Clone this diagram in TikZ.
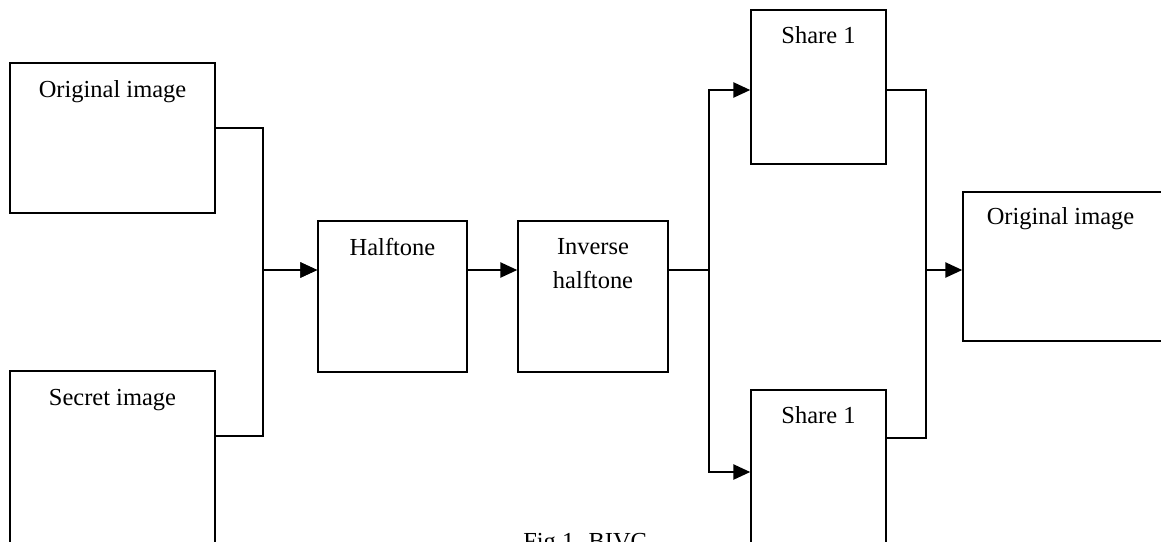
\documentclass[tikz,border=0pt]{standalone}
\usepackage{fontspec}
\setmainfont{Liberation Serif}
\usetikzlibrary{arrows.meta, positioning}
\tikzset{
    blockNode/.style = {rectangle, draw=black, line width=1.1pt, inner sep=0pt},
    titleNode/.style = {inner sep=0pt, align=center, font=\fontsize{17.4}{24.2}\selectfont},
    linePath/.style = {draw=black, line width=1.1pt},
    arrowPath/.style = {linePath, -{Triangle[length=0.42cm, width=0.38cm]}}
}
\begin{document}
\begin{tikzpicture}[x=0.025cm, y=-0.025cm]
    \useasboundingbox (0,0) rectangle (1161,541);
    % blocks
    \node(orig)[blockNode, minimum width=5.125cm, minimum height=3.75cm] at (112.5,138){};
    \node(secret)[blockNode, minimum width=5.125cm, minimum height=4.725cm] at (112.5,465.5){};
    \node(halftone)[blockNode, minimum width=3.725cm, minimum height=3.775cm] at (392.5,296.5){};
    \node(inverse)[blockNode, minimum width=3.75cm, minimum height=3.775cm] at (593,296.5){};
    \node(shareA)[blockNode, minimum width=3.375cm, minimum height=3.85cm] at (818.5,87){};
    \node(shareB)[blockNode, minimum width=3.375cm, minimum height=4.25cm] at (818.5,475){};
    \node(result)[blockNode, minimum width=5.675cm, minimum height=3.725cm] at (1076.5,266.5){};
    % titles
    \node(origTitle)[titleNode, below=0.45cm of orig.north]{Original image};
    \node(secretTitle)[titleNode, below=0.475cm of secret.north]{Secret image};
    \node(halftoneTitle)[titleNode, below=0.45cm of halftone.north]{Halftone};
    \node(inverseTitle)[titleNode, below=0.45cm of inverse.north]{Inverse\\halftone};
    \node(shareATitle)[titleNode, below=0.425cm of shareA.north]{Share 1};
    \node(shareBTitle)[titleNode, below=0.425cm of shareB.north]{Share 1};
    \node(resultTitle)[titleNode, below=0.4cm of result.north, xshift=-0.4cm]{Original image};
    \node(caption)[titleNode, anchor=north west] at (523,533){Fig.1. BIVC};
    % junctions
    \coordinate(joinA) at (263,270);
    \coordinate(splitB) at (709,270);
    \coordinate(joinC) at (926,270);
    % connectors
    \path[arrowPath] (orig.east |- 0,128) -| (joinA) -- (halftone.west |- joinA);
    \path[arrowPath] (secret.east |- 0,436) -| (joinA) -- (halftone.west |- joinA);
    \path[arrowPath] (halftone.east |- joinA) -- (inverse.west |- joinA);
    \path[linePath] (inverse.east |- splitB) -- (splitB);
    \path[arrowPath] (splitB) |- (shareA.west |- 0,90);
    \path[arrowPath] (splitB) |- (shareB.west |- 0,472);
    \path[linePath] (shareA.east |- 0,90) -| (joinC);
    \path[linePath] (shareB.east |- 0,438) -| (joinC);
    \path[arrowPath] (joinC) -- (result.west |- joinC);
\end{tikzpicture}
\end{document}
